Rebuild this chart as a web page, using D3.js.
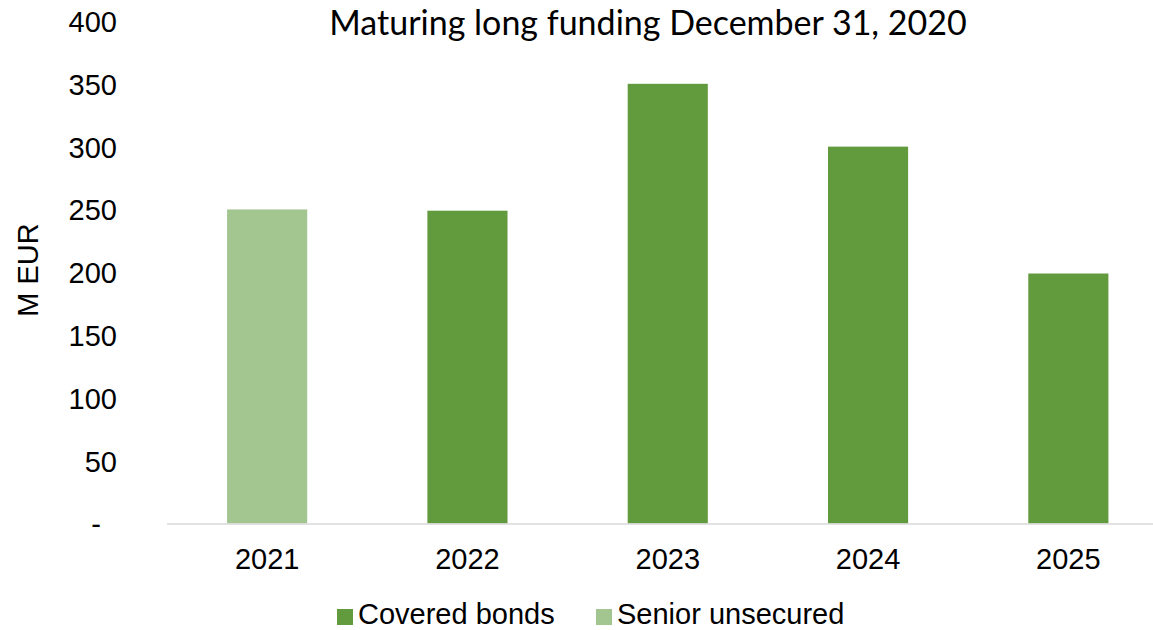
<!DOCTYPE html>
<html>
<head>
<meta charset="utf-8">
<script src="https://cdn.jsdelivr.net/npm/d3@7/dist/d3.min.js"></script>
<style>
  html, body { margin: 0; padding: 0; background: #fff; }
  svg { display: block; }
  .tick text { font-family: "Liberation Sans", Arial, sans-serif; fill: #000; }
</style>
</head>
<body>
<svg id="chart" width="1153" height="630"></svg>
<script>
// Maturing long funding by year (M EUR)
const years = ["2021", "2022", "2023", "2024", "2025"];
const coveredBonds = [0, 249, 350, 300, 199];
const seniorUnsecured = [250, 0, 0, 0, 0];
const seriesNames = ["Covered bonds", "Senior unsecured"];
const seriesColors = ["#629a3e", "#a3c590"];
const yTicks = [0, 50, 100, 150, 200, 250, 300, 350, 400];
const titleText = "Maturing long funding December 31, 2020";
const yAxisTitle = "M EUR";

const svg = d3.select("#chart");

const rows = years.map((y, i) => ({
  year: y,
  "Covered bonds": coveredBonds[i],
  "Senior unsecured": seniorUnsecured[i]
}));

const x = d3.scaleBand().domain(years).range([167, 1168.5]).paddingInner(0.6).paddingOuter(0.3);
const y = d3.scaleLinear().domain([0, 400]).range([523.5, 21]);
const color = d3.scaleOrdinal().domain(seriesNames).range(seriesColors);

const stacked = d3.stack().keys(seriesNames)(rows);

// bars
svg.append("g").selectAll("g")
  .data(stacked)
  .join("g")
  .attr("fill", d => color(d.key))
  .selectAll("rect")
  .data(d => d.filter(p => p[1] - p[0] > 0))
  .join("rect")
  .attr("x", d => x(d.data.year))
  .attr("width", x.bandwidth())
  .attr("y", d => y(d[1]))
  .attr("height", d => y(d[0]) - y(d[1]));

// category axis line
svg.append("line")
  .attr("x1", x.range()[0]).attr("x2", x.range()[1])
  .attr("y1", y(0) + 0.5).attr("y2", y(0) + 0.5)
  .attr("stroke", "#d9d9d9").attr("stroke-width", 1.5);

// y axis (labels only)
const yAxis = d3.axisLeft(y)
  .tickValues(yTicks)
  .tickSize(0)
  .tickPadding(0)
  .tickFormat(v => v === 0 ? "-\u00a0\u00a0" : String(v));
const gy = svg.append("g").attr("transform", "translate(117,0)").call(yAxis);
gy.select(".domain").remove();
gy.selectAll("text").attr("font-size", 29).attr("dy", "0.36em").style("white-space", "pre");

// x axis labels
const xAxis = d3.axisBottom(x).tickSize(0).tickPadding(0);
const gx = svg.append("g").attr("transform", "translate(0,548)").call(xAxis);
gx.select(".domain").remove();
gx.selectAll("text").attr("font-size", 29).attr("dy", "0.72em");

// y axis title
svg.append("text")
  .attr("transform", "translate(38,270) rotate(-90)")
  .attr("text-anchor", "middle")
  .attr("font-family", "Liberation Sans, Arial, sans-serif")
  .attr("font-size", 29)
  .text(yAxisTitle);

// chart title
svg.append("text")
  .attr("x", 648).attr("y", 35)
  .attr("text-anchor", "middle")
  .attr("font-family", "Lato, 'Open Sans', sans-serif")
  .attr("font-size", 34)
  .text(titleText);

// legend
const legend = svg.append("g").attr("font-family", "Liberation Sans, Arial, sans-serif").attr("font-size", 29);
const legendX = [337, 596];
seriesNames.forEach((name, i) => {
  const g = legend.append("g").attr("transform", `translate(${legendX[i]},0)`);
  g.append("rect").attr("x", 0).attr("y", 609).attr("width", 16).attr("height", 16).attr("fill", color(name));
  g.append("text").attr("x", 21).attr("y", 624).text(name);
});
</script>
</body>
</html>
